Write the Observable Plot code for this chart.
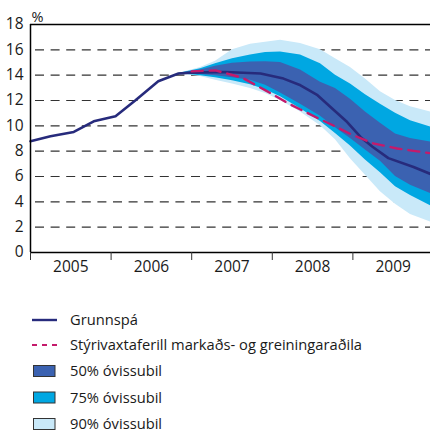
<!DOCTYPE html>
<html>
<head>
<meta charset="utf-8">
<script src="https://cdn.jsdelivr.net/npm/d3@7"></script>
<script src="https://cdn.jsdelivr.net/npm/@observablehq/plot@0.6"></script>
<style>
  html, body { margin: 0; padding: 0; background: #fff; }
  #wrap { position: relative; width: 430px; height: 433px; font-family: "Open Sans", sans-serif; }
  #legend { position: absolute; left: 0; top: 0; }
</style>
</head>
<body>
<div id="wrap"></div>
<script>
// ---- data ----
const years = [2005, 2006, 2007, 2008, 2009];
const yTicks = [0, 2, 4, 6, 8, 10, 12, 14, 16, 18];
const gridValues = [2, 4, 6, 8, 10, 12, 14, 16];

// historical policy rate
const histYear = [2005.0, 2005.248, 2005.537, 2005.785, 2006.055, 2006.303, 2006.585, 2006.836];
const histRate = [8.78, 9.18, 9.52, 10.36, 10.76, 12.02, 13.52, 14.13];

// baseline forecast (Grunnspá)
const baseYear = [2006.836, 2007.004, 2007.419, 2007.854, 2008.139, 2008.35, 2008.561, 2008.722, 2008.929, 2009.094, 2009.243, 2009.44, 2009.752, 2009.963];
const baseRate = [14.13, 14.2, 14.25, 14.13, 13.73, 13.2, 12.42, 11.49, 10.3, 9.12, 8.35, 7.45, 6.75, 6.2];

// market & analysts' policy rate path
const mktYear = [2007.0, 2007.295, 2007.626, 2007.916, 2008.201, 2008.536, 2008.821, 2008.97, 2009.243, 2009.55, 2009.963];
const mktRate = [14.3, 14.38, 13.8, 12.8, 11.76, 10.7, 9.83, 9.35, 8.63, 8.21, 7.84];

// fan (uncertainty intervals)
const fanYear = [2006.836, 2007.109, 2007.295, 2007.506, 2007.73, 2007.916, 2008.102, 2008.35, 2008.598, 2008.784, 2008.97, 2009.156, 2009.342, 2009.529, 2009.715, 2009.963];
const hi90 = [14.13, 14.6, 15.1, 16.0, 16.45, 16.6, 16.75, 16.5, 16.0, 15.3, 14.6, 13.7, 12.7, 12.0, 11.5, 11.1];
const hi75 = [14.13, 14.5, 14.9, 15.3, 15.6, 15.78, 15.83, 15.6, 14.9, 14.0, 13.3, 12.45, 11.7, 11.0, 10.4, 9.9];
const hi50 = [14.13, 14.4, 14.7, 14.95, 15.04, 15.05, 15.0, 14.4, 13.45, 12.95, 12.1, 11.1, 10.2, 9.35, 9.0, 8.73];
const lo50 = [14.13, 14.05, 13.95, 13.8, 13.6, 13.2, 12.6, 11.7, 10.75, 9.85, 9.0, 8.1, 7.2, 6.0, 5.3, 4.66];
const lo75 = [14.13, 13.95, 13.8, 13.55, 13.25, 12.85, 12.3, 11.35, 10.35, 9.4, 8.4, 7.3, 6.3, 5.2, 4.5, 3.7];
const lo90 = [14.13, 13.9, 13.6, 13.3, 12.95, 12.55, 12.0, 11.1, 10.0, 8.9, 7.4, 6.1, 4.8, 3.8, 3.0, 2.4];

const legendLabels = ["Grunnspá", "Stýrivaxtaferill markaðs- og greiningaraðila", "50% óvissubil", "75% óvissubil", "90% óvissubil"];

// ---- colours ----
const cNavy = "#272b7c";
const cPink = "#c41a6b";
const c50 = "#3b62b1";
const c75 = "#00a7e2";
const c90 = "#c9e9f9";

// ---- build tables ----
const baseline = histYear.map((x, i) => ({x, y: histRate[i]}))
  .concat(baseYear.map((x, i) => ({x, y: baseRate[i]})));
const market = mktYear.map((x, i) => ({x, y: mktRate[i]}));
const fan = fanYear.map((x, i) => ({x, hi90: hi90[i], hi75: hi75[i], hi50: hi50[i], lo50: lo50[i], lo75: lo75[i], lo90: lo90[i]}));

const chart = Plot.plot({
  width: 430,
  height: 285,
  marginLeft: 30,
  marginRight: 0,
  marginTop: 24,
  marginBottom: 33,
  style: {fontFamily: "Open Sans, sans-serif", fontSize: "15.5px", color: "#1a1a1a", background: "#fff"},
  x: {domain: [2005, 2009.963], label: null},
  y: {domain: [0, 18], label: null},
  marks: [
    Plot.ruleY(gridValues, {stroke: "#333", strokeWidth: 1.2, strokeDasharray: "9,6.6", strokeDashoffset: 10.6}),
    Plot.areaY(fan, {x: "x", y1: "lo90", y2: "hi90", fill: c90}),
    Plot.areaY(fan, {x: "x", y1: "lo75", y2: "hi75", fill: c75}),
    Plot.areaY(fan, {x: "x", y1: "lo50", y2: "hi50", fill: c50}),
    Plot.line(baseline, {x: "x", y: "y", stroke: cNavy, strokeWidth: 2.6}),
    Plot.line(market, {x: "x", y: "y", stroke: cPink, strokeWidth: 2.4, strokeDasharray: "11,7"}),
    Plot.ruleY([18], {stroke: "#000", strokeWidth: 1.5}),
    Plot.ruleY([0], {stroke: "#000", strokeWidth: 1.5}),
    Plot.ruleX([2005], {stroke: "#000", strokeWidth: 1.5}),
    Plot.axisY(yTicks, {tickSize: 0, tickPadding: 7, label: null, fontSize: 15.5}),
    Plot.axisX(years, {tickSize: 8, tickFormat: () => "", label: null, stroke: "#333"}),
    Plot.axisX(years.map(y => y + 0.5), {tickSize: 0, tickPadding: 8, tickFormat: d => String(Math.floor(d)), label: null, fontSize: 15.5}),
    Plot.text(["%"], {frameAnchor: "top-left", text: d => d, textAnchor: "start", lineAnchor: "bottom", dx: 1, dy: -3, fontSize: 14.5})
  ]
});

const wrap = document.getElementById("wrap");
wrap.appendChild(chart);

// ---- legend ----
const lg = d3.create("svg").attr("width", 430).attr("height", 433).attr("id", "legend")
  .style("font-family", "Open Sans, sans-serif").style("font-size", "14.7px");
const rowY = [320, 345, 371, 397.5, 424];
const fills = [null, null, c50, c75, c90];
legendLabels.forEach((t, i) => {
  const y = rowY[i];
  if (i === 0) {
    lg.append("line").attr("x1", 32).attr("x2", 57).attr("y1", y).attr("y2", y).attr("stroke", cNavy).attr("stroke-width", 2.4);
  } else if (i === 1) {
    lg.append("line").attr("x1", 32).attr("x2", 57).attr("y1", y).attr("y2", y).attr("stroke", cPink).attr("stroke-width", 2.2).attr("stroke-dasharray", "5,5");
  } else {
    lg.append("rect").attr("x", 33.5).attr("y", y - 5.5).attr("width", 21.5).attr("height", 11)
      .attr("fill", fills[i]).attr("stroke", "#333").attr("stroke-width", 1);
  }
  lg.append("text").attr("x", 70).attr("y", y).attr("dy", "0.35em").attr("fill", "#1a1a1a").text(t);
});
wrap.appendChild(lg.node());
</script>
</body>
</html>
